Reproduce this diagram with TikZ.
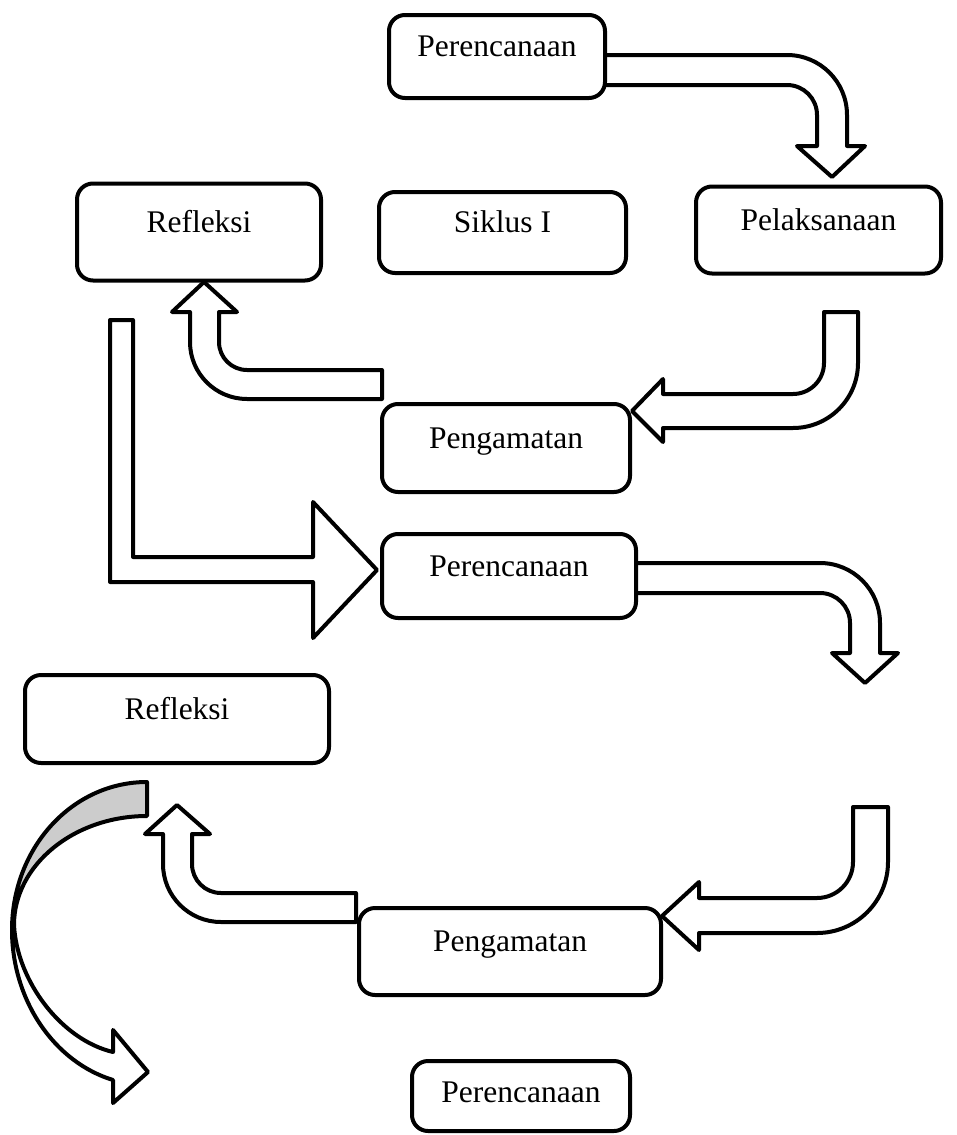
\documentclass[tikz,border=0pt]{standalone}
\usepackage{fontspec}
\setmainfont{Liberation Serif}

\begin{document}
\begin{tikzpicture}[
x=1pt, y=-1pt,
stage/.style={rectangle, draw, line width=4pt, rounded corners=16pt, fill=white, align=center, font=\fontsize{31.5}{38}\selectfont, text height=12pt, text depth=12pt, inner sep=0pt},
blockarr/.style={draw, line width=4pt, line join=round, fill=white},
backarr/.style={blockarr, fill=gray!40}
]
\useasboundingbox (0,0) rectangle (956,1135);

% block arrows (under the boxes)
\draw[blockarr] (600,55) -- (787,55) arc[start angle=-90, end angle=0, radius=60] -- (847,146) -- (865,146) -- (832,177) -- (797,146) -- (817,146) -- (817,115) arc[start angle=0, end angle=-90, radius=30] -- (600,85) -- cycle;
\draw[blockarr] (824,312) -- (858,312) -- (858,363) arc[start angle=0, end angle=90, radius=65] -- (663,428) -- (663,442) -- (632,411) -- (663,379) -- (663,394) -- (793,394) arc[start angle=90, end angle=0, radius=31] -- cycle;
\draw[blockarr] (382,370) -- (247,370) arc[start angle=90, end angle=180, radius=28] -- (219,312) -- (237,312) -- (204,282) -- (172,312) -- (190,312) -- (190,342) arc[start angle=180, end angle=90, radius=57] -- (382,399) -- cycle;
\draw[blockarr] (110,320) -- (133,320) -- (133,557) -- (313,557) -- (313,502) -- (377,570) -- (313,638) -- (313,582) -- (110,582) -- cycle;
\draw[blockarr] (630,563) -- (820,563) arc[start angle=-90, end angle=0, radius=60] -- (880,653) -- (898,653) -- (865,683) -- (832,653) -- (850,653) -- (850,623) arc[start angle=0, end angle=-90, radius=30] -- (630,593) -- cycle;
\draw[blockarr] (853,807) -- (888,807) -- (888,862) arc[start angle=0, end angle=90, radius=71] -- (699,933) -- (699,950) -- (662,916) -- (699,882) -- (699,898) -- (817,898) arc[start angle=90, end angle=0, radius=36] -- cycle;
\draw[blockarr] (356,893) -- (221,893) arc[start angle=90, end angle=180, radius=29] -- (192,834) -- (210,834) -- (177,805) -- (145,834) -- (163,834) -- (163,864) arc[start angle=180, end angle=90, radius=58] -- (356,922) -- cycle;
% curved arrow on the left
\draw[backarr] (147,782) .. controls (72,782) and (12,848) .. (12,930) -- (14,925) .. controls (14,865) and (74,816) .. (147,816) -- cycle;
\draw[blockarr] (12,930) .. controls (12,1000) and (54,1062) .. (113,1080) -- (113,1103) -- (148,1072) -- (113,1030) -- (113,1052) .. controls (62,1040) and (17,982) .. (14,925) -- cycle;

% boxes
\node[stage, minimum width=216, minimum height=83] (plan1) at (497,56.5) {Perencanaan};
\node[stage, minimum width=244, minimum height=97] (refl1) at (199,232) {Refleksi};
\node[stage, minimum width=247, minimum height=81] (cycle1) at (502.5,232.5) {Siklus I};
\node[stage, minimum width=245, minimum height=87] (act1) at (818.5,230) {Pelaksanaan};
\node[stage, minimum width=248, minimum height=88] (obs1) at (506,448) {Pengamatan};
\node[stage, minimum width=254, minimum height=84] (plan2) at (509,576) {Perencanaan};
\node[stage, minimum width=304, minimum height=88] (refl2) at (177,719) {Refleksi};
\node[stage, minimum width=302, minimum height=87] (obs2) at (510,951.5) {Pengamatan};
\node[stage, minimum width=218, minimum height=70, text height=18pt, text depth=6pt] (plan3) at (521,1096) {Perencanaan};
\end{tikzpicture}
\end{document}
